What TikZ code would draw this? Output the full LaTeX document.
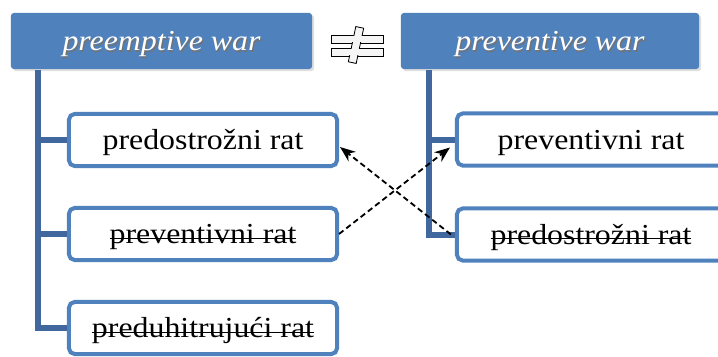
\documentclass[tikz,border=0pt]{standalone}
\usepackage{fontspec}
\setmainfont{Liberation Serif}
\usetikzlibrary{arrows.meta,shadows}
\definecolor{officeblue}{RGB}{79,129,189}
\definecolor{linkblue}{RGB}{64,104,158}
\newcommand{\wtxt}[1]{\scalebox{1.1}[1]{#1}}
\newcommand{\shtext}[1]{\rlap{\textcolor{black!55}{\hspace{0.9pt}\raisebox{-0.9pt}{\wtxt{#1}}}}\wtxt{#1}}
\newsavebox{\strkbox}
\newcommand{\strk}[1]{\sbox{\strkbox}{\wtxt{#1}}\rlap{\rule[0.17em]{\wd\strkbox}{0.9pt}}\usebox{\strkbox}}

\begin{document}
\begin{tikzpicture}[
    x=0.025cm, y=-0.025cm,
    >={Stealth[length=11pt,width=8.5pt]},
    hdr/.style={fill=officeblue, rounded corners=2pt, minimum height=1.4cm,
      inner sep=0pt, text=white, text height=18.5pt, text depth=4.5pt,
      font=\fontsize{20.6}{24}\selectfont\itshape,
      drop shadow={opacity=0.25, shadow xshift=1.5pt, shadow yshift=-1.5pt}},
    item/.style={draw=officeblue, line width=0.1cm, fill=white, rounded corners=4pt,
      minimum width=6.7cm, minimum height=1.3cm, inner sep=0pt,
      text height=18.5pt, text depth=4.5pt,
      font=\fontsize{20.6}{24}\selectfont},
    link/.style={draw=linkblue, line width=0.15cm},
    cross/.style={->, dash pattern=on 4pt off 2.5pt, line width=1.3pt}
  ]
  \clip (0,0) rectangle (718,356);

  % headings
  \node[hdr, minimum width=7.525cm] (hdrL) at (161.5,41) {\shtext{preemptive war}};
  \node[hdr, minimum width=7.45cm] (hdrR) at (550,41) {\shtext{preventive war}};

  % not-equal sign
  \begin{scope}[fill=gray!8, draw=black, line width=0.6pt]
    \filldraw (331,35) rectangle (383,43);
    \filldraw (331,48) rectangle (383,56);
    \filldraw[rotate around={-12:(356,45)}] (352,27) rectangle (360,63);
    \fill (332,36) rectangle (382,42);
    \fill (332,49) rectangle (382,55);
    \fill[rotate around={-12:(356,45)}] (353,28) rectangle (359,62);
  \end{scope}

  % left column
  \coordinate (topL) at (38,70);
  \node[item] (l1) at (203,140) {\wtxt{predostrožni rat}};
  \node[item] (l2) at (203,234) {\strk{preventivni rat}};
  \node[item] (l3) at (203,328) {\strk{preduhitrujući rat}};
  \draw[link] (topL |- l1.west) -- (l1.west);
  \draw[link] (topL |- l2.west) -- (l2.west);
  \draw[link] (topL) |- (l3.west);

  % right column
  \coordinate (topR) at (429,70);
  \node[item] (r1) at (591,139.5) {\wtxt{preventivni rat}};
  \node[item] (r2) at (591,234.5) {\strk{predostrožni rat}};
  \draw[link] (topR |- r1.west) -- (r1.west);
  \draw[link] (topR) |- (r2.west);

  % swapped terms
  \draw[cross] (l2.east) -- ([shift={(-5,8)}]r1.west);
  \draw[cross] ([shift={(-4,0)}]r2.west) -- ([shift={(1,7)}]l1.east);
\end{tikzpicture}
\end{document}
